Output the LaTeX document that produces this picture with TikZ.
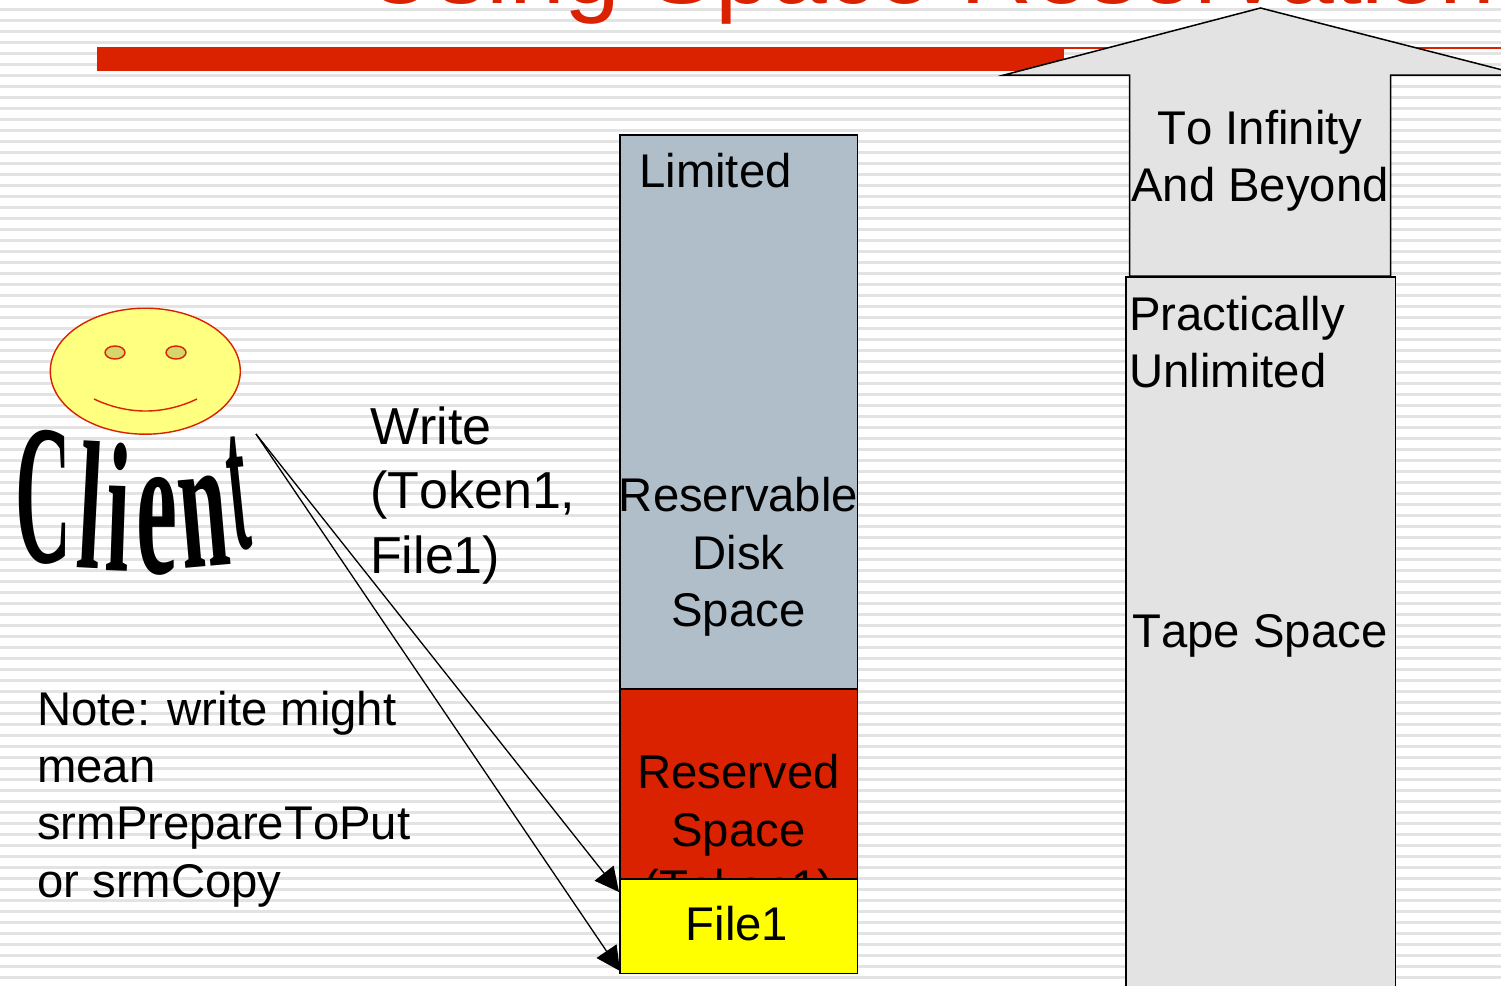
\documentclass[tikz,border=0pt]{standalone}
\usepackage{fontspec}
\usepackage{graphicx}
\setmainfont[RawFeature=-kern]{Liberation Sans}
\newfontfamily\clientfont{Liberation Serif Bold}
\usetikzlibrary{arrows.meta}
\definecolor{slidered}{HTML}{DA2200}
\definecolor{stripe}{HTML}{E3E3E3}
\definecolor{diskblue}{HTML}{B0BEC9}
\definecolor{tapegrey}{HTML}{E3E3E3}
\definecolor{facefill}{HTML}{FFFF80}
\definecolor{eyefill}{HTML}{D5D56A}
\definecolor{filefill}{HTML}{FFFF00}
\tikzset{
  x=1pt,y=-1pt,
  txt/.style={inner sep=0pt,font=\fontsize{47.3}{57.3}\selectfont},
  bigtxt/.style={inner sep=0pt,font=\fontsize{52}{64.5}\selectfont},
  box/.style={draw=black,line width=1.5pt},
  letter/.style={inner sep=0pt,text=black},
  writearrow/.style={draw=black,line width=1.3pt,-{Triangle[length=24pt,width=24pt]}},
  facepart/.style={draw=slidered,line width=1.4pt}
}
\begin{document}
\begin{tikzpicture}
\clip (0,0) rectangle (1501,985);
\fill[white] (0,0) rectangle (1501,985);
\foreach \k in {0,...,89} \fill[stripe] (0,8+11*\k) rectangle (1501,11+11*\k);
% title, cut off by the top edge
\node[anchor=base west,inner sep=0pt,text=slidered,font=\fontsize{100.3}{101}\selectfont] (title) at (364,3) {Using Space Reservation};
\fill[slidered] (97,47) rectangle (1064,71);
\fill[slidered] (1064,47) rectangle (1501,49);
% face
\draw[facepart,fill=facefill] (145.3,371.2) ellipse [x radius=95,y radius=63];
\draw[facepart,fill=eyefill] (115,352.5) ellipse [x radius=10,y radius=6.5];
\draw[facepart,fill=eyefill] (176,352.5) ellipse [x radius=10,y radius=6.5];
\draw[facepart] (94,399) .. controls (128,415) and (163,415) .. (197,399);
% warped word
\node[letter,rotate=0] (c1) at (44,497.5) {\resizebox{56pt}{132pt}{\clientfont C}};
\node[letter,rotate=-3] (c2) at (91,505) {\resizebox{24pt}{127pt}{\clientfont l}};
\node[letter,rotate=-2] (c3) at (119,507) {\resizebox{24pt}{128pt}{\clientfont i}};
\node[letter,rotate=0] (c4) at (157,526) {\resizebox{41pt}{96pt}{\clientfont e}};
\node[letter,rotate=5] (c5) at (204,522) {\resizebox{49pt}{90pt}{\clientfont n}};
\node[letter,rotate=6] (c6) at (238,494) {\resizebox{19pt}{112pt}{\clientfont t}};
% disk column
\node[box,fill=diskblue,minimum width=237.5pt,minimum height=554pt,inner sep=0pt,anchor=north west] (disk) at (619,134) {};
\node[box,fill=slidered,minimum width=237.5pt,minimum height=190pt,inner sep=0pt,anchor=north west] (reserved) at (619,688) {};
\node[txt,anchor=base west] (limited) at (639,187) {Limited};
\node[txt,anchor=base,align=center] (reservable) at (738.5,626.5) {Reservable\\Disk\\Space};
\node[txt,anchor=base,align=center] (restext) at (738.5,903.5) {Reserved\\Space\\(Token1)};
\node[box,fill=filefill,minimum width=237.5pt,minimum height=94.5pt,inner sep=0pt,anchor=north west] (file) at (619,878) {};
\node[txt,anchor=base] (filetext) at (737,940.5) {File1};
% tape column
\filldraw[box,fill=tapegrey] (1260.5,8) -- (1522,75) -- (1390.5,75) -- (1390.5,276) -- (1129.5,276) -- (1129.5,75) -- (1004,75) -- cycle;
\node[box,fill=tapegrey,minimum width=269.5pt,minimum height=730pt,inner sep=0pt,anchor=north west] (tape) at (1125,276) {};
\node[txt,anchor=base,align=center] (infinity) at (1260,201.5) {To Infinity\\And Beyond};
\node[txt,anchor=base west,align=left] (practically) at (1129,387.5) {Practically\\Unlimited};
\node[txt,anchor=base] (tapetext) at (1260,647.5) {Tape Space};
% labels
\node[bigtxt,anchor=base west,align=left] (write) at (370,573) {Write\\(Token1,\\File1)};
\node[txt,anchor=base west,align=left] (note) at (37,897) {Note: write might\\mean\\srmPrepareToPut\\or srmCopy};
% connectors
\coordinate (start) at (256,434);
\coordinate (t1) at (619,892);
\coordinate (t2) at (620,971);
\draw[writearrow] (start) -- (t1);
\draw[writearrow] (start) -- (t2);
\end{tikzpicture}
\end{document}
